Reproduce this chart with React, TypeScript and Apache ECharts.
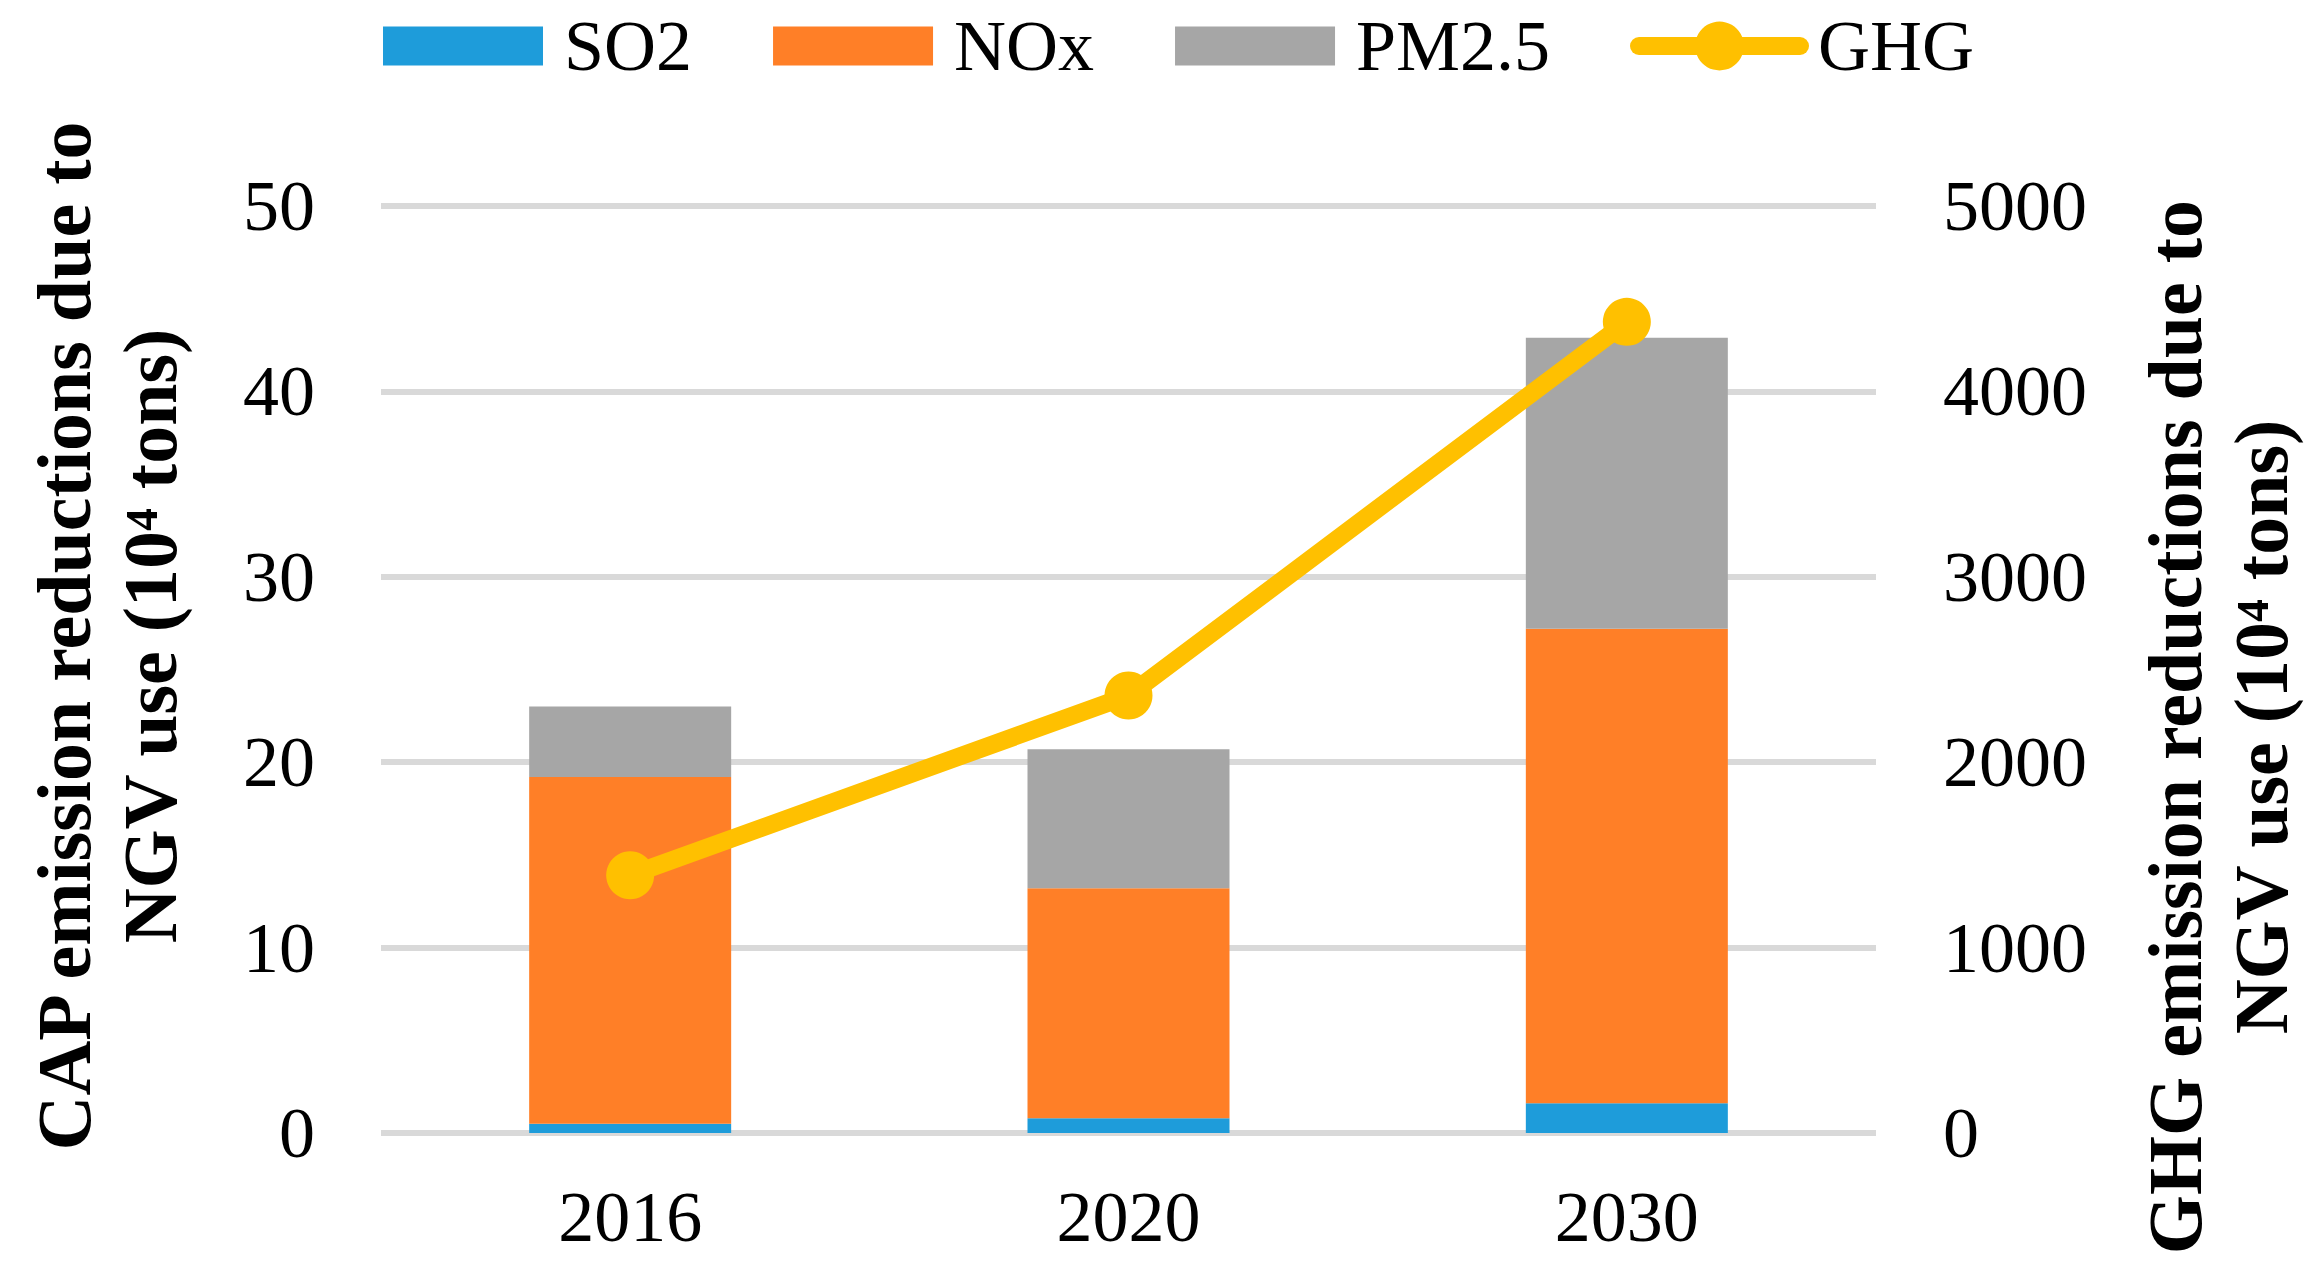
import React, { useEffect, useRef } from "react";
import * as echarts from "echarts";

const categories = ["2016", "2020", "2030"];
const so2 = [0.5, 0.8, 1.6];
const nox = [18.7, 12.4, 25.6];
const pm25 = [3.8, 7.5, 15.7];
const ghg = [1390, 2360, 4375];

const leftTitle1 = "CAP emission reductions due to";
const leftTitle2 = "NGV use (10\u2074 tons)";
const rightTitle1 = "GHG emission reductions due to";
const rightTitle2 = "NGV use (10\u2074 tons)";

const FONT = "'Liberation Serif', 'Times New Roman', serif";

export default function App() {
  const ref = useRef<HTMLDivElement>(null);
  useEffect(() => {
    document.body.style.margin = "0";
    const chart = echarts.init(ref.current!, null, { renderer: "svg" });
    const titleStyle = {
      fontFamily: FONT,
      fontWeight: "bold",
      fontSize: 76,
      fill: "#000",
      align: "center",
      verticalAlign: "middle",
    };
    chart.setOption({
      animation: false,
      backgroundColor: "#fff",
      textStyle: { fontFamily: FONT },
      legend: [
        {
          top: 10,
          left: 383,
          padding: 0,
          itemWidth: 160,
          itemHeight: 39,
          itemGap: 81,
          textStyle: { fontFamily: FONT, fontSize: 72, color: "#000", padding: [0, 0, 0, 16] },
          data: [
            { name: "SO2", icon: "rect" },
            { name: "NOx", icon: "rect" },
            { name: "PM2.5", icon: "rect" },
          ],
        },
        {
          top: 10,
          left: 1630,
          padding: 0,
          itemWidth: 161,
          itemHeight: 61,
          lineStyle: { width: 18, cap: "round" },
          textStyle: { fontFamily: FONT, fontSize: 72, color: "#000", padding: [0, 0, 0, 13] },
          data: [{ name: "GHG" }],
        },
      ],
      grid: { left: 381, right: 440, top: 206, bottom: 144, containLabel: false },
      xAxis: {
        type: "category",
        data: categories,
        axisLine: { show: false },
        axisTick: { show: false },
        axisLabel: { fontFamily: FONT, fontSize: 72, color: "#000", margin: 48 },
      },
      yAxis: [
        {
          type: "value",
          min: 0,
          max: 50,
          interval: 10,
          axisLine: { show: false },
          axisTick: { show: false },
          axisLabel: { fontFamily: FONT, fontSize: 72, color: "#000", margin: 66 },
          splitLine: { lineStyle: { color: "#d9d9d9", width: 6 } },
        },
        {
          type: "value",
          min: 0,
          max: 5000,
          interval: 1000,
          axisLine: { show: false },
          axisTick: { show: false },
          axisLabel: {
            fontFamily: FONT,
            fontSize: 72,
            color: "#000",
            margin: 67,
            formatter: (v: number) => String(v),
          },
          splitLine: { show: false },
        },
      ],
      series: [
        { name: "SO2", type: "bar", stack: "cap", barWidth: 202, data: so2, itemStyle: { color: "#1E9CDA" } },
        { name: "NOx", type: "bar", stack: "cap", barWidth: 202, data: nox, itemStyle: { color: "#FF7F27" } },
        { name: "PM2.5", type: "bar", stack: "cap", barWidth: 202, data: pm25, itemStyle: { color: "#A6A6A6" } },
        {
          name: "GHG",
          type: "line",
          yAxisIndex: 1,
          data: ghg,
          symbol: "circle",
          symbolSize: 48,
          lineStyle: { color: "#FFC000", width: 18 },
          itemStyle: { color: "#FFC000" },
          z: 5,
        },
      ],
      graphic: [
        { type: "text", x: 64, y: 636, rotation: Math.PI / 2, style: { ...titleStyle, text: leftTitle1 } },
        { type: "text", x: 150, y: 636, rotation: Math.PI / 2, style: { ...titleStyle, text: leftTitle2 } },
        { type: "text", x: 2175, y: 727, rotation: Math.PI / 2, style: { ...titleStyle, text: rightTitle1 } },
        { type: "text", x: 2261, y: 727, rotation: Math.PI / 2, style: { ...titleStyle, text: rightTitle2 } },
      ],
    });
    return () => chart.dispose();
  }, []);
  return (
    <div
      ref={ref}
      style={{ position: "absolute", left: 0, top: 0, width: 2316, height: 1277 }}
    />
  );
}
